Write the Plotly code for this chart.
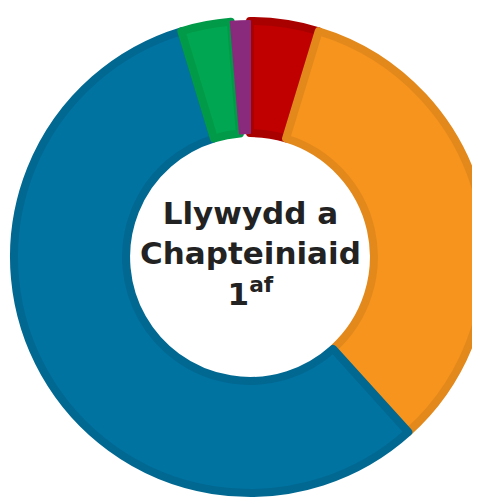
import plotly.graph_objects as go

labels = ["Red", "Orange", "Blue", "Green", "Purple"]
values = [4.7, 33.6, 57.0, 3.4, 1.3]
fill_colors = ["#C00000", "#F7941E", "#0073A1", "#00A651", "#8A2A7C"]
border_colors = ["#A90000", "#E3891C", "#006891", "#009A48", "#8A2A7C"]
border_widths = [8, 8, 8, 8, 2]
center_text = "Llywydd a<br>Chapteiniaid<br>1<sup>af</sup>"

fig = go.Figure(
    go.Pie(
        labels=labels,
        values=values,
        sort=False,
        direction="clockwise",
        rotation=0,
        hole=0.525,
        textinfo="none",
        hoverinfo="label+percent",
        marker=dict(colors=fill_colors, line=dict(color=border_colors, width=border_widths)),
        showlegend=False,
    )
)

fig.add_annotation(
    x=0.5, y=0.5, xref="paper", yref="paper",
    xanchor="center", yanchor="middle",
    yshift=4,
    text=center_text, showarrow=False,
    font=dict(family="DejaVu Sans", size=31, color="#222222", weight="bold"),
)

fig.update_layout(
    width=490,
    height=500,
    margin=dict(l=6, r=12, t=13, b=15),
    paper_bgcolor="white",
    plot_bgcolor="white",
)
fig.write_html("out.html")
